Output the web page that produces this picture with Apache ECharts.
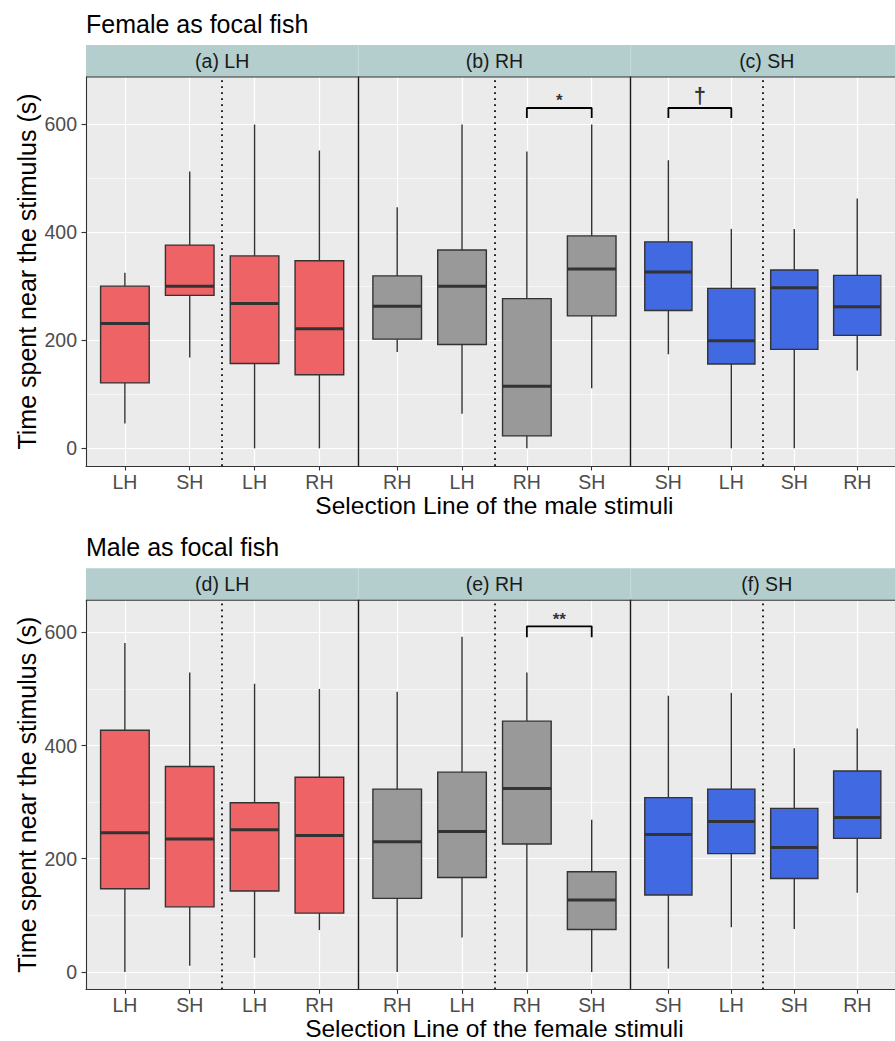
<!DOCTYPE html>
<html>
<head>
<meta charset="utf-8">
<script src="https://cdn.jsdelivr.net/npm/echarts@6/dist/echarts.min.js"></script>
<style>
html, body { margin: 0; padding: 0; background: #ffffff; }
#chart { width: 895px; height: 1041px; }
</style>
</head>
<body>
<div id="chart"></div>
<script>
// ---------------- DATA ----------------
const panelTitles = ['Female as focal fish', 'Male as focal fish'];
const xAxisTitles = ['Selection Line of the male stimuli', 'Selection Line of the female stimuli'];
const yAxisTitle = 'Time spent near the stimulus (s)';
const stripTop = ['(a) LH', '(b) RH', '(c) SH'];
const stripBottom = ['(d) LH', '(e) RH', '(f) SH'];
const catsLH = ['LH', 'SH', 'LH', 'RH'];
const catsRH = ['RH', 'LH', 'RH', 'SH'];
const catsSH = ['SH', 'LH', 'SH', 'RH'];
const yTickValues = [0, 200, 400, 600];
const yMinorValues = [100, 300, 500];
const xTickValues = [1, 2, 3, 4];

// each box: [min, Q1, median, Q3, max]
const femaleLH = [[46, 121, 231, 300, 325], [168, 283, 300, 376, 512], [0, 157, 268, 356, 599], [0, 136, 221, 347, 551]];
const femaleRH = [[178, 202, 263, 319, 446], [64, 192, 300, 367, 599], [0, 23, 115, 277, 549], [111, 245, 332, 393, 599]];
const femaleSH = [[174, 255, 326, 382, 533], [0, 156, 199, 296, 406], [0, 183, 297, 330, 406], [144, 209, 262, 320, 462]];
const maleLH = [[0, 147, 246, 427, 581], [11, 115, 235, 363, 529], [25, 143, 251, 299, 509], [74, 104, 241, 344, 500]];
const maleRH = [[0, 130, 230, 323, 495], [61, 167, 248, 353, 592], [0, 226, 324, 443, 529], [0, 75, 127, 177, 269]];
const maleSH = [[6, 136, 243, 308, 488], [79, 209, 266, 323, 493], [76, 165, 220, 289, 395], [140, 236, 273, 355, 430]];

// significance brackets: x positions (category slots) and y values
const bracketFemaleRH = { x: [3, 3, 4, 4], y: [611, 629.6, 629.6, 611], label: '*', labelY: 650 };
const bracketFemaleSH = { x: [1, 1, 2, 2], y: [611, 629.6, 629.6, 611], label: '\u2020', labelY: 652 };
const bracketMaleRH = { x: [3, 3, 4, 4], y: [591.2, 610.6, 610.6, 591.2], label: '**', labelY: 629 };

// y ranges of the two panels (as in the reference, incl. expansion)
const yRangeFemale = [-32.7, 687.0];
const yRangeMale = [-30.6, 656.5];

// ---------------- STYLE / LAYOUT ----------------
const FONT = 'Liberation Sans, Arial, Helvetica, sans-serif';
const fillColors = ['#EE6366', '#999999', '#4169E1'];
const PLOT_LEFT = 86;
const FACET_W = 272.3;
const STRIP_H = 32;
const PANEL_H = 389;
const BOX_W = 0.75;
const panels = [
  { stripY: 45, top: 77, yRange: yRangeFemale, strips: stripTop, boxes: [femaleLH, femaleRH, femaleSH],
    brackets: [null, bracketFemaleRH, bracketFemaleSH], titleY: 23.5, xTitleY: 505 },
  { stripY: 568.3, top: 600.3, yRange: yRangeMale, strips: stripBottom, boxes: [maleLH, maleRH, maleSH],
    brackets: [null, bracketMaleRH, null], titleY: 547, xTitleY: 1028 }
];
const facetCats = [catsLH, catsRH, catsSH];

const grids = [], xAxes = [], yAxes = [], series = [], graphics = [];

function makeRenderer(color) {
  return function (params, api) {
    const x = api.value(0);
    const lo = api.coord([x, api.value(1)]);
    const q1 = api.coord([x, api.value(2)]);
    const md = api.coord([x, api.value(3)]);
    const q3 = api.coord([x, api.value(4)]);
    const hi = api.coord([x, api.value(5)]);
    const w = api.size([BOX_W, 0])[0];
    const cx = lo[0];
    const ls = { stroke: '#333333', lineWidth: 1.4 };
    return {
      type: 'group',
      children: [
        { type: 'line', shape: { x1: cx, y1: hi[1], x2: cx, y2: q3[1] }, style: ls },
        { type: 'line', shape: { x1: cx, y1: q1[1], x2: cx, y2: lo[1] }, style: ls },
        { type: 'rect', shape: { x: cx - w / 2, y: q3[1], width: w, height: q1[1] - q3[1] },
          style: { fill: color, stroke: '#333333', lineWidth: 1.4 } },
        { type: 'line', shape: { x1: cx - w / 2, y1: md[1], x2: cx + w / 2, y2: md[1] },
          style: { stroke: '#333333', lineWidth: 3 } }
      ]
    };
  };
}

panels.forEach(function (p, pi) {
  for (let f = 0; f < 3; f++) {
    const gi = grids.length;
    const left = PLOT_LEFT + f * FACET_W;
    grids.push({ left: left, top: p.top, width: FACET_W, height: PANEL_H, show: true,
      backgroundColor: '#EBEBEB', borderWidth: 0, z: 0 });
    const cats = facetCats[f];
    xAxes.push({
      type: 'value', gridIndex: gi, min: 0.4, max: 4.6, z: 6,
      axisLine: { show: true, onZero: false, lineStyle: { color: '#333333', width: 1.1 } },
      axisTick: { show: true, customValues: xTickValues, length: 4.5, lineStyle: { color: '#333333', width: 1.1 } },
      axisLabel: { show: true, customValues: xTickValues, formatter: function (v) { return cats[Math.round(v) - 1]; },
        color: '#4D4D4D', fontSize: 19.5, fontFamily: FONT, margin: 6 },
      splitLine: { show: false }
    });
    if (f === 0) {
      yAxes.push({
        type: 'value', gridIndex: gi, min: p.yRange[0], max: p.yRange[1], z: 6,
        axisLine: { show: true, onZero: false, lineStyle: { color: '#333333', width: 1.1 } },
        axisTick: { show: true, customValues: yTickValues, length: 4.5, lineStyle: { color: '#333333', width: 1.1 } },
        axisLabel: { show: true, customValues: yTickValues, color: '#4D4D4D', fontSize: 19.5, fontFamily: FONT, margin: 9 },
        splitLine: { show: false }
      });
    } else {
      yAxes.push({
        type: 'value', gridIndex: gi, min: p.yRange[0], max: p.yRange[1], z: 6,
        axisLine: { show: true, onZero: false, lineStyle: { color: '#1A1A1A', width: 1.4 } },
        axisTick: { show: false }, axisLabel: { show: false }, splitLine: { show: false }
      });
    }
    // grid lines
    const gridLineData = [];
    xTickValues.forEach(function (v) { gridLineData.push({ xAxis: v, lineStyle: { color: '#FFFFFF', width: 1.2, type: 'solid' } }); });
    yTickValues.forEach(function (v) { gridLineData.push({ yAxis: v, lineStyle: { color: '#FFFFFF', width: 1.2, type: 'solid' } }); });
    yMinorValues.forEach(function (v) { gridLineData.push({ yAxis: v, lineStyle: { color: '#FFFFFF', width: 0.6, type: 'solid' } }); });
    series.push({
      type: 'line', xAxisIndex: gi, yAxisIndex: gi, data: [], z: 1, silent: true,
      markLine: { silent: true, z: 1, symbol: ['none', 'none'], label: { show: false }, animation: false, data: gridLineData }
    });
    series.push({
      type: 'line', xAxisIndex: gi, yAxisIndex: gi, data: [], z: 2, silent: true,
      markLine: { silent: true, z: 2, symbol: ['none', 'none'], label: { show: false }, animation: false,
        data: [{ xAxis: 2.5, lineStyle: { color: '#000000', width: 1.7, type: [1.7, 4.3] } }] }
    });
    // boxes
    series.push({
      type: 'custom', xAxisIndex: gi, yAxisIndex: gi, z: 3, silent: true,
      renderItem: makeRenderer(fillColors[f]),
      encode: { x: 0, y: [1, 2, 3, 4, 5] },
      data: p.boxes[f].map(function (b, i) { return [i + 1].concat(b); })
    });
    // brackets
    const br = p.brackets[f];
    if (br) {
      series.push({
        type: 'line', xAxisIndex: gi, yAxisIndex: gi, z: 4, silent: true, symbol: 'none',
        lineStyle: { color: '#000000', width: 1.8 },
        data: br.x.map(function (xv, k) { return [xv, br.y[k]]; })
      });
      const isDagger = br.label === '\u2020';
      series.push({
        type: 'scatter', xAxisIndex: gi, yAxisIndex: gi, z: 4, silent: true, symbolSize: 0,
        data: [[(br.x[0] + br.x[2]) / 2, br.labelY]],
        label: { show: true, position: 'inside', formatter: br.label, color: '#000000',
          fontSize: isDagger ? 22 : 17, fontWeight: 'bold', fontFamily: FONT,
          offset: [0, isDagger ? 0 : 3.5] }
      });
    }
    // strip
    graphics.push({ type: 'rect', silent: true, shape: { x: left, y: p.stripY, width: FACET_W, height: STRIP_H },
      style: { fill: '#B4CDCD' } });
    graphics.push({ type: 'text', silent: true, x: left + FACET_W / 2, y: p.stripY + STRIP_H / 2,
      style: { text: p.strips[f], fill: '#1A1A1A', fontSize: 19.5, fontFamily: FONT, align: 'center', verticalAlign: 'middle' } });
    if (f > 0) {
      graphics.push({ type: 'line', silent: true, shape: { x1: left, y1: p.stripY, x2: left, y2: p.stripY + STRIP_H },
        style: { stroke: '#C6DADA', lineWidth: 1 } });
    }
  }
  // strip bottom border
  graphics.push({ type: 'line', silent: true, z: 10,
    shape: { x1: PLOT_LEFT, y1: p.top, x2: PLOT_LEFT + 3 * FACET_W, y2: p.top },
    style: { stroke: '#333333', lineWidth: 1.1 } });
  // titles
  graphics.push({ type: 'text', silent: true, x: PLOT_LEFT, y: p.titleY,
    style: { text: panelTitles[pi], fill: '#000000', fontSize: 25, fontFamily: FONT, align: 'left', verticalAlign: 'middle' } });
  graphics.push({ type: 'text', silent: true, x: PLOT_LEFT + 1.5 * FACET_W, y: p.xTitleY,
    style: { text: xAxisTitles[pi], fill: '#000000', fontSize: 24.5, fontFamily: FONT, align: 'center', verticalAlign: 'middle' } });
  graphics.push({ type: 'text', silent: true, x: 27, y: p.top + PANEL_H / 2, rotation: Math.PI / 2,
    style: { text: yAxisTitle, fill: '#000000', fontSize: 25, fontFamily: FONT, align: 'center', verticalAlign: 'middle' } });
});

const chart = echarts.init(document.getElementById('chart'), null, { renderer: 'svg', width: 895, height: 1041 });
chart.setOption({
  animation: false,
  backgroundColor: '#FFFFFF',
  textStyle: { fontFamily: FONT },
  grid: grids,
  xAxis: xAxes,
  yAxis: yAxes,
  series: series,
  graphic: { elements: graphics }
});
</script>
</body>
</html>
